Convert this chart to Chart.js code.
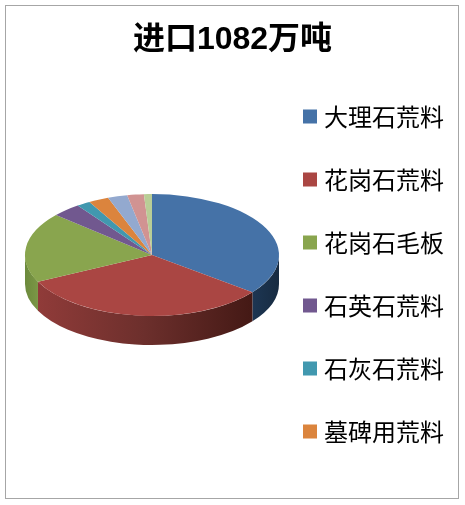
<!DOCTYPE html>
<html>
<head>
<meta charset="utf-8">
<title>进口1082万吨</title>
<script src="https://cdn.jsdelivr.net/npm/chart.js@4/dist/chart.umd.min.js"></script>
<style>
  html, body { margin: 0; padding: 0; background: #fff; }
  #wrap { position: relative; width: 465px; height: 505px; overflow: hidden; }
  #frame { position: absolute; left: 5px; top: 5px; width: 452px; height: 492px; border: 1px solid #a6a6a6; }
  #chart { position: absolute; left: 0; top: 0; }
</style>
</head>
<body>
<div id="wrap">
  <div id="frame"></div>
  <canvas id="chart" width="465" height="505"></canvas>
</div>
<script>
// -------------------------
// Data (万吨)
// -------------------------
const titleText = "进口1082万吨";
const categories = ["大理石荒料", "花岗石荒料", "花岗石毛板", "石英石荒料", "石灰石荒料", "墓碑用荒料", "其他一", "其他二", "其他三"];
const tonnage = [385, 350, 202, 40, 19, 28, 27, 23, 11];
const legendCount = 6; // the original legend is cut off after six entries

// -------------------------
// Colours
// -------------------------
const sliceColors = ["#4572a7", "#aa4643", "#89a54e", "#71588f", "#4198af", "#db843d", "#93a9cf", "#d19392", "#b9cd96"];
const wallColors = { 0: ["#1d3653", "#172b41"], 1: ["#903b39", "#6c2f2c", "#441915"], 2: ["#6c8a3c", "#7b9646"] };

// -------------------------
// Fake 3D: squash the pie and paint its side wall
// -------------------------
const pieCx = 152, pieCy = 255, squash = 0.48, depth = 29;

function drawWall(ctx, el, i) {
  const stops = wallColors[i];
  if (!stops) return;
  // only the part facing the viewer (0..PI on canvas)
  const a0 = Math.max(el.startAngle, 0);
  const a1 = Math.min(el.endAngle, Math.PI);
  if (a1 <= a0) return;
  const rx = el.outerRadius, ry = rx * squash;
  const x0 = pieCx + rx * Math.cos(a1), x1 = pieCx + rx * Math.cos(a0);
  const grad = ctx.createLinearGradient(x0, 0, x1, 0);
  stops.forEach((c, k) => grad.addColorStop(k / (stops.length - 1), c));
  ctx.beginPath();
  ctx.ellipse(pieCx, pieCy, rx, ry, 0, a0, a1);
  ctx.ellipse(pieCx, pieCy + depth, rx, ry, 0, a1, a0, true);
  ctx.closePath();
  ctx.fillStyle = grad;
  ctx.fill();
}

const pie3d = {
  id: "pie3d",
  beforeDatasetDraw(chart, args) {
    const ctx = chart.ctx;
    const arcs = args.meta.data;
    arcs.forEach((el, i) => drawWall(ctx, el, i));
    ctx.save();
    ctx.translate(pieCx, pieCy);
    ctx.scale(1, squash);
    ctx.translate(-arcs[0].x, -arcs[0].y);
  },
  afterDatasetDraw(chart) {
    chart.ctx.restore();
  }
};

// -------------------------
// Chart
// -------------------------
new Chart(document.getElementById("chart"), {
  type: "pie",
  data: {
    labels: categories,
    datasets: [{ data: tonnage, backgroundColor: sliceColors, borderWidth: 0, clip: false, radius: 127 }]
  },
  options: {
    responsive: false,
    animation: false,
    layout: { padding: { left: 11, right: 11 } },
    plugins: {
      tooltip: { enabled: false },
      title: {
        display: true,
        text: titleText,
        color: "#000",
        font: { family: "'Liberation Sans','Noto Sans CJK SC',sans-serif", size: 32, weight: "bold", lineHeight: 1.2 },
        padding: { top: 21, bottom: 6 }
      },
      legend: {
        position: "right",
        align: "start",
        fullSize: false,
        labels: {
          usePointStyle: true,
          pointStyle: "rect",
          boxWidth: 4,
          boxHeight: 14,
          padding: 39,
          color: "#000",
          font: { family: "'Noto Sans CJK SC',sans-serif", size: 24 },
          filter: (item) => item.index < legendCount
        }
      }
    }
  },
  plugins: [pie3d]
});
</script>
</body>
</html>
